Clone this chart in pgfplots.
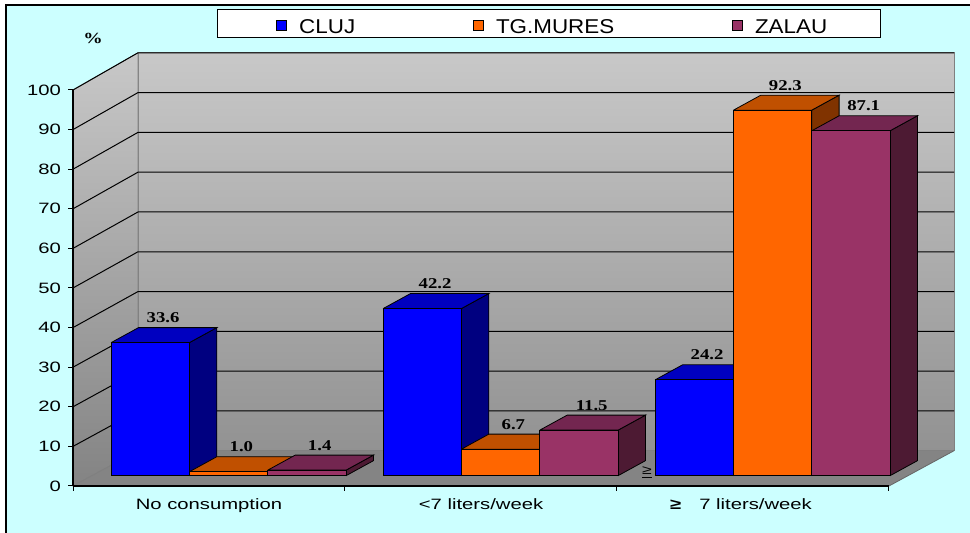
\documentclass[border=0pt]{standalone}
\usepackage{fontspec}
\setmainfont{Liberation Sans}[FakeStretch=1.35]
\newfontfamily\labfont{Liberation Serif}[FakeStretch=1.25]
\newfontfamily\legfont{Liberation Sans}[FakeStretch=1.12]
\usepackage{pgfplots}
\pgfplotsset{compat=1.18}
\usepackage{pgfplotstable}

\definecolor{bgcyan}{HTML}{CCFFFF}
\definecolor{cfront}{HTML}{0000FF}
\definecolor{ctop}{HTML}{0000C0}
\definecolor{cside}{HTML}{000080}
\definecolor{ofront}{HTML}{FF6600}
\definecolor{otop}{HTML}{C05000}
\definecolor{oside}{HTML}{803300}
\definecolor{zfront}{HTML}{993366}
\definecolor{ztop}{HTML}{732650}
\definecolor{zside}{HTML}{4D1A33}
\definecolor{walltop}{HTML}{C8C8C8}
\definecolor{wallbot}{HTML}{929292}
\definecolor{floorg}{HTML}{848484}

\pgfplotstableread{
x cluj tgmures zalau
0 33.6 1.0 1.4
1 42.2 6.7 11.5
2 24.2 92.3 87.1
}\datatable

% top and side faces of a 3-D bar: #1 left edge of front face, #2 value
\newcommand{\barfaces}[4]{%
  \pgfmathsetmacro{\xa}{#1}%
  \pgfmathsetmacro{\xb}{#1+0.2878}%
  \pgfmathsetmacro{\xc}{#1+0.2878+0.1007}%
  \pgfmathsetmacro{\xd}{#1+0.1007}%
  \pgfmathsetmacro{\ya}{#2}%
  \pgfmathsetmacro{\yb}{#2+3.79}%
  \edef\tmp{%
    \noexpand\addplot[forget plot, fill=#4, draw=black, line width=0.4pt, yshift=5.15pt, mark=none]
      coordinates {(\xb,0) (\xb,\ya) (\xc,\yb) (\xc,3.79) (\xb,0)};
    \noexpand\addplot[forget plot, fill=#3, draw=black, line width=0.4pt, yshift=5.15pt, mark=none]
      coordinates {(\xa,\ya) (\xb,\ya) (\xc,\yb) (\xd,\yb) (\xa,\ya)};
  }\tmp
}

\pgfplotsset{
  vallabels/.style={forget plot, only marks, mark=none, point meta=explicit,
    nodes near coords={\pgfmathprintnumber[fixed,fixed zerofill,precision=1]{\pgfplotspointmeta}},
    nodes near coords style={font=\labfont\bfseries\fontsize{7.5}{9}\selectfont, anchor=center, inner sep=0pt}},
}

\begin{document}
\begin{tikzpicture}
\useasboundingbox (0,0) rectangle (485pt,266.5pt);
\draw[fill=bgcyan, line width=0.9pt] (3pt,-5pt) rectangle (495pt,264pt);
\draw[fill=white, line width=0.5pt] (108.5pt,247.5pt) rectangle (440pt,261.5pt);
\begin{axis}[
  at={(36.5pt,23.5pt)}, anchor=south west,
  scale only axis, width=408pt, height=198pt,
  xmin=-0.5, xmax=2.5, ymin=0, ymax=100,
  clip=false, axis on top,
  axis x line*=bottom, axis y line*=left,
  axis line style={black, line width=0.6pt},
  ytick={0,10,...,100},
  xtick={-0.5,0.5,1.5,2.5}, xticklabels={},
  extra x ticks={0,1,2},
  extra x tick labels={No consumption,{<7 liters/week},{\textbf{≥}\hspace{9pt}7 liters/week\hspace*{12pt}}},
  extra x tick style={major tick length=0pt, tick label style={yshift=-3pt}},
  tick align=outside, major tick length=2.5pt,
  tick style={black, line width=0.5pt},
  tick label style={font=\fontsize{7.5}{9}\selectfont},
  /pgf/number format/assume math mode=true,
  legend style={draw=none, fill=none, at={(0.2488,1.1566)}, anchor=west,
    legend columns=3, inner sep=0pt,
    font=\legfont\fontsize{10}{12}\selectfont,
    /tikz/every even column/.append style={column sep=57pt}},
  legend image code/.code={\draw[#1, draw=black, line width=0.4pt] (0pt,-6.5pt) rectangle (5pt,-1.5pt); \path (9pt,0pt);},
]
% walls and floor
\shade[top color=walltop, bottom color=wallbot, draw=gray, line width=0.4pt]
  (axis cs:-0.261,8.9) rectangle (axis cs:2.739,109.4);
\shade[top color=walltop, bottom color=wallbot!90!black, draw=gray, line width=0.4pt]
  (axis cs:-0.5,0) -- (axis cs:-0.261,8.9) -- (axis cs:-0.261,109.4) -- (axis cs:-0.5,100) -- cycle;
\fill[floorg] (axis cs:-0.5,0) -- (axis cs:2.5,0) -- (axis cs:2.739,8.9) -- (axis cs:-0.261,8.9) -- cycle;
\draw[black!60, line width=0.4pt] (axis cs:2.5,0) -- (axis cs:2.739,8.9);
\pgfplotsinvokeforeach{1,...,10}{
  \draw[black, line width=0.5pt] (axis cs:-0.5,{10*#1}) -- (axis cs:-0.261,{8.9+10.05*#1}) -- (axis cs:2.739,{8.9+10.05*#1});
}
\draw[black!50, line width=0.4pt] (axis cs:-0.5,0) -- (axis cs:-0.261,8.9);

% CLUJ
\barfaces{-0.3599}{33.6}{ctop}{cside}
\barfaces{0.6401}{42.2}{ctop}{cside}
\barfaces{1.6401}{24.2}{ctop}{cside}
\addplot[ybar, bar width=39.14pt, bar shift=-29.38pt, fill=cfront, draw=black, line width=0.4pt, yshift=5.15pt]
  table[x=x, y=cluj]{\datatable};
\addlegendentry{CLUJ}
% TG.MURES
\barfaces{-0.0719}{1.0}{otop}{oside}
\barfaces{0.9281}{6.7}{otop}{oside}
\barfaces{1.9281}{92.3}{otop}{oside}
\addplot[ybar, bar width=39.14pt, bar shift=9.79pt, fill=ofront, draw=black, line width=0.4pt, yshift=5.15pt]
  table[x=x, y=tgmures]{\datatable};
\addlegendentry{TG.MURES}
% ZALAU
\barfaces{0.2161}{1.4}{ztop}{zside}
\barfaces{1.2161}{11.5}{ztop}{zside}
\barfaces{2.2161}{87.1}{ztop}{zside}
\addplot[ybar, bar width=39.14pt, bar shift=48.96pt, fill=zfront, draw=black, line width=0.4pt, yshift=5.15pt]
  table[x=x, y=zalau]{\datatable};
\addlegendentry{ZALAU}

% value labels
\addplot[vallabels] table[x expr=\thisrow{x}-0.169, y expr=\thisrow{cluj}+8.9, meta=cluj]{\datatable};
\addplot[vallabels] table[x expr=\thisrow{x}+0.119, y expr=\thisrow{tgmures}+8.9, meta=tgmures]{\datatable};
\addplot[vallabels] table[x expr=\thisrow{x}+0.407, y expr=\thisrow{zalau}+8.9, meta=zalau]{\datatable};

\node[font=\labfont\bfseries\fontsize{7.75}{9}\selectfont] at (axis cs:-0.4265,113.1) {\%};
\node[font=\fontsize{6.5}{8}\selectfont, inner sep=0pt] at (axis cs:1.610,3.3) {\underline{≥}};
\end{axis}
\end{tikzpicture}
\end{document}
